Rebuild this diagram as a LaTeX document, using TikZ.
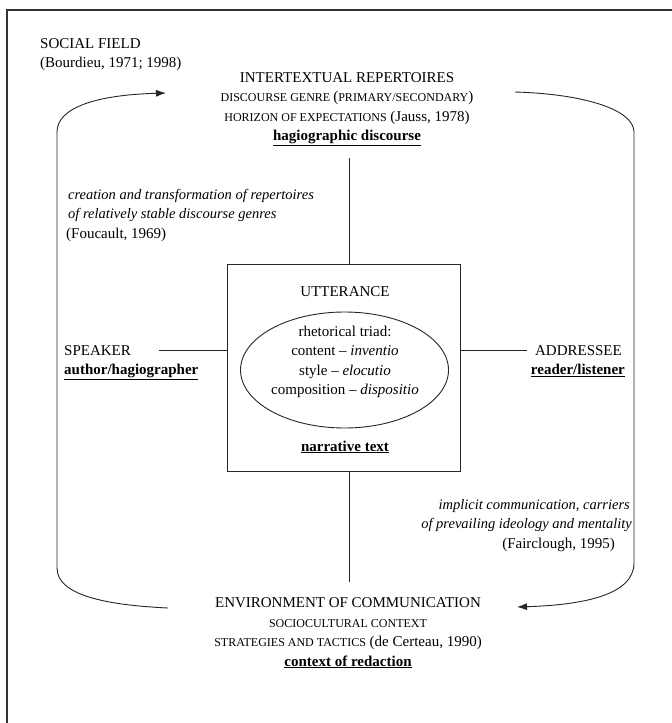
\documentclass[tikz,border=0pt]{standalone}
\usepackage{fontspec}
\setmainfont{Liberation Serif}
\usetikzlibrary{arrows.meta,shapes.geometric}
\newcommand{\smc}[1]{{\fontsize{12}{13}\selectfont #1}}
\newcommand{\ul}[1]{\underline{\textbf{#1}}}
\begin{document}
\begin{tikzpicture}[x=1pt,y=-1pt,
  txt/.style={anchor=base, inner sep=0pt, text=black, font=\fontsize{15}{17}\selectfont},
  txtl/.style={txt, anchor=base west},
  txtr/.style={txt, anchor=base east},
  itx/.style={font=\fontsize{14.5}{17}\selectfont\itshape},
  ln/.style={line width=0.9pt, black!85},
  arr/.style={ln, -{Latex[length=10pt,width=7pt]}}]
\useasboundingbox (0,0) rectangle (672,723);
\fill[white] (0,0) rectangle (672,723);
% frame
\draw[line width=1.3pt, black!80] (672,10) -- (7,10) -- (7,723);

% social field
\node[txtl] (sf1) at (40,48) {SOCIAL FIELD};
\node[txtl] (sf2) at (40,67) {(Bourdieu, 1971; 1998)};

% intertextual repertoires
\node[txt] (ir1) at (347,82) {INTERTEXTUAL REPERTOIRES};
\node[txt] (ir2) at (347,101.5) {\smc{DISCOURSE GENRE }(\smc{PRIMARY/SECONDARY})};
\node[txt] (ir3) at (347,121) {\smc{HORIZON OF EXPECTATIONS} (Jauss, 1978)};
\node[txt] (ir4) at (347,140.5) {\ul{hagiographic discourse}};

% foucault
\node[txtl, itx] (fc1) at (68,199) {creation and transformation of repertoires};
\node[txtl, itx] (fc2) at (68,218.5) {of relatively stable discourse genres};
\node[txtl] (fc3) at (66,238) {(Foucault, 1969)};

% utterance box
\node[draw, line width=0.9pt, black!85, minimum width=233pt, minimum height=207pt, inner sep=0pt] (utt) at (343.5,367.5) {};
\node[txt] (u1) at (345,296) {UTTERANCE};
\node[draw, ellipse, line width=0.9pt, black!85, minimum width=208pt, minimum height=116pt, inner sep=0pt] (tri) at (344.5,370) {};
\node[txt] (t1) at (345,336) {rhetorical triad:};
\node[txt] (t2) at (345,355.5) {content -- \textit{inventio}};
\node[txt] (t3) at (345,375) {style -- \textit{elocutio}};
\node[txt] (t4) at (345,394.5) {composition -- \textit{dispositio}};
\node[txt] (u2) at (345,451) {\ul{narrative text}};

% speaker / addressee
\node[txtl] (sp1) at (64,355) {SPEAKER};
\node[txtl] (sp2) at (64,374.5) {\ul{author/hagiographer}};
\node[txtr] (ad1) at (622,355) {ADDRESSEE};
\node[txtr] (ad2) at (625,374.5) {\ul{reader/listener}};

% fairclough
\node[txtr, itx] (fa1) at (630,509) {implicit communication, carriers};
\node[txtr, itx] (fa2) at (632,528.5) {of prevailing ideology and mentality};
\node[txtr] (fa3) at (615,548) {(Fairclough, 1995)};

% environment
\node[txt] (en1) at (348,607) {ENVIRONMENT OF COMMUNICATION};
\node[txt] (en2) at (348,627) {\smc{SOCIOCULTURAL CONTEXT}};
\node[txt] (en3) at (348,646.5) {\smc{STRATEGIES AND TACTICS} (de Certeau, 1990)};
\node[txt] (en4) at (348,666) {\ul{context of redaction}};

% connectors
\coordinate (vt) at (349,158);
\coordinate (vb) at (349,582);
\coordinate (spL) at (159,350);
\coordinate (adR) at (527,350);
\draw[ln] (vt) -- (vt |- utt.north);
\draw[ln] (vb |- utt.south) -- (vb);
\draw[ln] (spL) -- (spL -| utt.west);
\draw[ln] (adR -| utt.east) -- (adR);

% arcs
\coordinate (aL1) at (168,608);
\coordinate (aL2) at (166,93);
\coordinate (aR1) at (515,92);
\coordinate (aR2) at (517,607);
\draw[arr] (aL1) .. controls (105,605) and (57,595) .. (57,568) -- (57,132) .. controls (57,108) and (95,95) .. (aL2);
\draw[arr] (aR1) .. controls (585,94) and (634,110) .. (634,132) -- (634,563) .. controls (634,596) and (580,605) .. (aR2);
\end{tikzpicture}
\end{document}
